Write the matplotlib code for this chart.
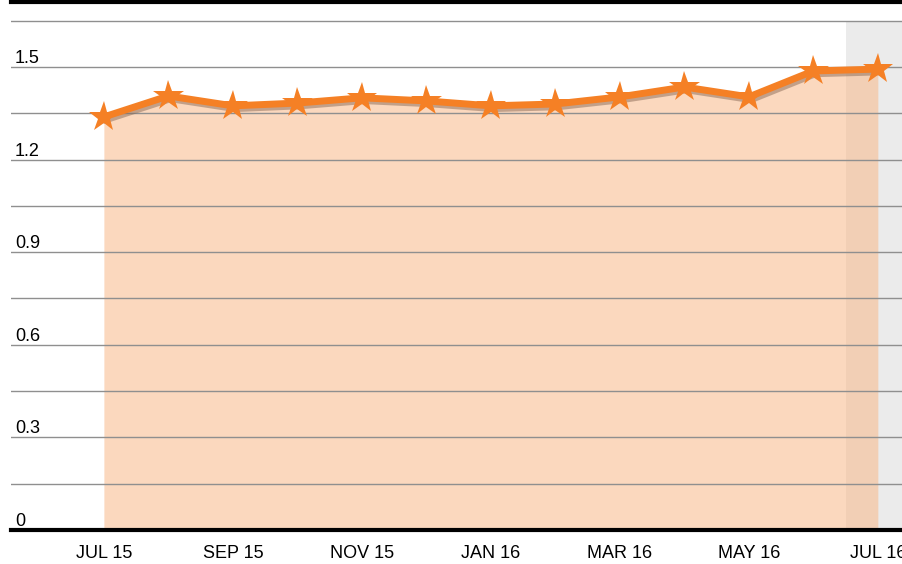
import numpy as np
import matplotlib
matplotlib.use("Agg")
from matplotlib import pyplot as plt
import matplotlib.patheffects as pe

plt.rcParams['font.family'] = ['Liberation Sans', 'DejaVu Sans']

months = ["JUL 15", "AUG 15", "SEP 15", "OCT 15", "NOV 15", "DEC 15", "JAN 16",
          "FEB 16", "MAR 16", "APR 16", "MAY 16", "JUN 16", "JUL 16"]
values = [1.338, 1.406, 1.374, 1.383, 1.400, 1.390, 1.374,
          1.380, 1.403, 1.435, 1.403, 1.487, 1.493]
y_ticks = [0, 0.3, 0.6, 0.9, 1.2, 1.5]
label_every = 2

x = np.arange(len(months))

fig = plt.figure(figsize=(9.03, 5.64), dpi=100)
ax = fig.add_axes([11 / 903, 34 / 564, 892 / 903, 528.5 / 564])

xmin, xmax = -1.44, 12.39
ymax = 1.712
ax.set_xlim(xmin, xmax)
ax.set_ylim(0, ymax)

# gridlines every 0.15
for g in np.arange(0.15, 1.66, 0.15):
    ax.axhline(g, color="#8f8f8f", lw=1.0, zorder=3)

# shaded "latest" band
ax.fill_between([11.5, xmax], 0, 1.65, color="#ebebeb", lw=0, zorder=1)

# area under the line
ax.fill_between(x, 0, values, color="#f8b98a", alpha=0.55, lw=0, zorder=2)

# line with stars + drop shadow
shadow = [pe.SimpleLineShadow(offset=(1.5, -2), shadow_color="#8a6a56", alpha=0.5), pe.Normal()]
ax.plot(x, values, color="#f58025", lw=5, marker="*", markersize=23,
        markeredgewidth=0, zorder=5, solid_joinstyle="round", path_effects=shadow)

# y labels sitting above gridlines
for t in y_ticks:
    ax.annotate(f"{t:g}", xy=(0, t), xycoords=("axes fraction", "data"),
                xytext=(4, 4), textcoords="offset pixels",
                ha="left", va="baseline", fontsize=13, color="black")

ax.set_yticks([])
ax.set_xticks(x[::label_every])
ax.set_xticklabels(months[::label_every], fontsize=13, color="black")
ax.tick_params(axis="x", length=0, pad=11)

for s in ["left", "right"]:
    ax.spines[s].set_visible(False)
ax.spines["top"].set_linewidth(3)
ax.spines["top"].set_color("black")
ax.spines["bottom"].set_linewidth(3)
ax.spines["bottom"].set_color("black")
ax.spines["bottom"].set_zorder(6)

fig.savefig("out.png", dpi=100)
